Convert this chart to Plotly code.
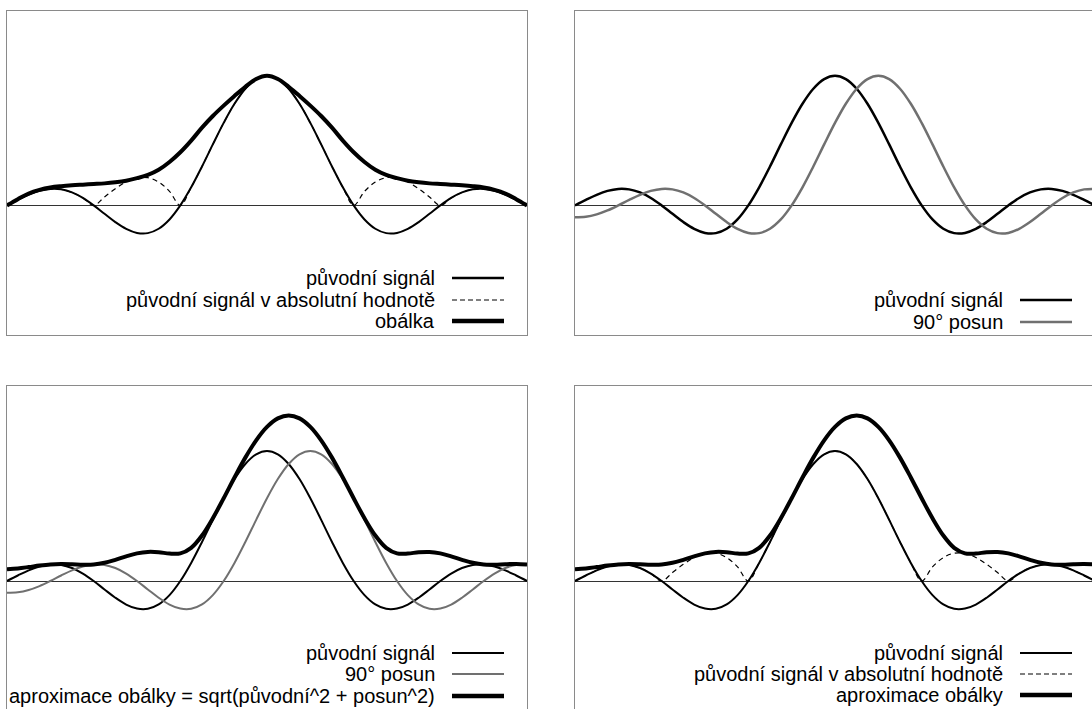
import plotly.graph_objects as go

# x positions in units of pi (step pi/8, from -3pi to 3pi)
X = [k / 8 for k in range(-24, 25)]

# original signal
ORIG_HALF = [1.0, 0.9745, 0.9003, 0.7842, 0.6366, 0.4705, 0.3001, 0.1392, 0.0,
             -0.1083, -0.1801, -0.2139, -0.2122, -0.1810, -0.1286, -0.0650, 0.0,
             0.0573, 0.1000, 0.1238, 0.1273, 0.1120, 0.0819, 0.0424, 0.0]
ORIG = ORIG_HALF[::-1] + ORIG_HALF[1:]

# absolute value of the original signal
ABS = [abs(v) for v in ORIG]

# 90 degree shifted signal
SHIFT = [-0.0910, -0.0871, -0.0693, -0.0390, 0.0, 0.0424, 0.0819, 0.1120, 0.1273,
         0.1238, 0.1000, 0.0573, 0.0, -0.0650, -0.1286, -0.1810, -0.2122, -0.2139,
         -0.1801, -0.1083, 0.0, 0.1392, 0.3001, 0.4705, 0.6366, 0.7842, 0.9003,
         0.9745, 1.0, 0.9745, 0.9003, 0.7842, 0.6366, 0.4705, 0.3001, 0.1392, 0.0,
         -0.1083, -0.1801, -0.2139, -0.2122, -0.1810, -0.1286, -0.0650, 0.0,
         0.0573, 0.1000, 0.1238, 0.1273]

# envelope drawn in top-left panel ("obálka")
ENV_HALF = [1.0, 0.975, 0.915, 0.845, 0.77, 0.69, 0.60, 0.50, 0.41, 0.335, 0.275,
            0.235, 0.21, 0.19, 0.178, 0.17, 0.165, 0.16, 0.155, 0.148, 0.138,
            0.12, 0.092, 0.048, 0.0]
ENV = ENV_HALF[::-1] + ENV_HALF[1:]

# envelope approximation sqrt(orig^2 + shift^2)
APPROX = [0.0910, 0.0969, 0.1072, 0.1186, 0.1273, 0.1309, 0.1293, 0.1259, 0.1273,
          0.1398, 0.1629, 0.1898, 0.2122, 0.2235, 0.2213, 0.2109, 0.2122, 0.2552,
          0.3500, 0.4828, 0.6366, 0.7965, 0.9490, 1.0822, 1.1855, 1.2509, 1.2733,
          1.2509, 1.1855, 1.0822, 0.9490, 0.7965, 0.6366, 0.4828, 0.3500, 0.2552,
          0.2122, 0.2109, 0.2213, 0.2235, 0.2122, 0.1898, 0.1629, 0.1398, 0.1273,
          0.1259, 0.1293, 0.1309, 0.1273]

BLACK = "#000000"
GRAY = "#707070"
FRAME = "#8a8a8a"
W, H = 1092, 709

fig = go.Figure()


def add(y, ax, color, width, dash="solid"):
    fig.add_trace(go.Scatter(
        x=X, y=y, mode="lines", xaxis="x" + ax, yaxis="y" + ax,
        line=dict(color=color, width=width, dash=dash, shape="spline", smoothing=1.0),
        hoverinfo="skip", showlegend=False))


# top-left
add(ABS, "", BLACK, 1.2, "5px,4px")
add(ORIG, "", BLACK, 2)
add(ENV, "", BLACK, 4)
# top-right
add(ORIG, "2", BLACK, 2.5)
add(SHIFT, "2", GRAY, 2.5)
# bottom-left
add(ORIG, "3", BLACK, 2)
add(SHIFT, "3", GRAY, 2)
add(APPROX, "3", BLACK, 4)
# bottom-right
add(ABS, "4", BLACK, 1.2, "5px,4px")
add(ORIG, "4", BLACK, 2)
add(APPROX, "4", BLACK, 4)

LX = [7 / W, 527 / W]
RX = [575 / W, 1.0]
TY = [1 - 335 / H, 1 - 11 / H]
BY = [0.0, 1 - 386 / H]
right_max = -3 + 517 / 520 * 6
bottom_min = 1.5 - 323 / 130


def xax(dom, rng, anchor, mirror, side="bottom"):
    return dict(domain=dom, range=rng, anchor=anchor, showgrid=False, zeroline=False,
                showticklabels=False, ticks="", showline=True, linecolor=FRAME,
                linewidth=1, mirror=mirror, side=side, fixedrange=True)


def yax(dom, rng, anchor, mirror):
    return dict(domain=dom, range=rng, anchor=anchor, showgrid=False, zeroline=True,
                zerolinecolor="#333333", zerolinewidth=1, showticklabels=False,
                ticks="", showline=True, linecolor=FRAME, linewidth=1, mirror=mirror,
                fixedrange=True)


fig.update_layout(
    width=W, height=H, margin=dict(l=0, r=0, t=0, b=0),
    paper_bgcolor="white", plot_bgcolor="white",
    xaxis=xax(LX, [-3, 3], "y", True),
    yaxis=yax(TY, [-1, 1.5], "x", True),
    xaxis2=xax(RX, [-3, right_max], "y2", True),
    yaxis2=yax(TY, [-1, 1.5], "x2", False),
    xaxis3=xax(LX, [-3, 3], "y3", False, "top"),
    yaxis3=yax(BY, [bottom_min, 1.5], "x3", True),
    xaxis4=xax(RX, [-3, right_max], "y4", False, "top"),
    yaxis4=yax(BY, [bottom_min, 1.5], "x4", False),
    font=dict(family="Liberation Sans, Arial, sans-serif", size=20, color="black"),
)

# legends (text right-aligned, sample line to the right)
LEG = [
    # (text, text_right_px, y_px, line_x0, line_x1, color, width, dash)
    ("původní signál", 437, 278, 452, 504, BLACK, 2.5, "solid"),
    ("původní signál v absolutní hodnotě", 437, 300, 452, 504, BLACK, 1.2, "5px,3px"),
    ("obálka", 437, 321, 452, 504, BLACK, 4.5, "solid"),
    ("původní signál", 1005, 300, 1020, 1072, BLACK, 2.5, "solid"),
    ("90° posun", 1005, 322, 1020, 1072, GRAY, 2.5, "solid"),
    ("původní signál", 437, 653, 452, 504, BLACK, 2, "solid"),
    ("90° posun", 437, 674, 452, 504, GRAY, 2, "solid"),
    ("aproximace obálky = sqrt(původní^2 + posun^2)", 437, 696, 452, 504, BLACK, 4.5, "solid"),
    ("původní signál", 1005, 653, 1020, 1072, BLACK, 2, "solid"),
    ("původní signál v absolutní hodnotě", 1005, 674, 1020, 1072, BLACK, 1.2, "5px,3px"),
    ("aproximace obálky", 1005, 695, 1020, 1072, BLACK, 4.5, "solid"),
]
for text, tx, ty, lx0, lx1, col, lw, dash in LEG:
    fig.add_annotation(text=text, x=tx / W, y=1 - ty / H, xref="paper", yref="paper",
                       xanchor="right", yanchor="middle", showarrow=False,
                       font=dict(size=20, color="black"))
    fig.add_shape(type="line", xref="paper", yref="paper", x0=lx0 / W, x1=lx1 / W,
                  y0=1 - ty / H, y1=1 - ty / H, line=dict(color=col, width=lw, dash=dash))

fig.write_html("out.html", config={"displayModeBar": False, "staticPlot": True},
               post_script="document.body.style.margin='0';document.body.style.overflow='hidden';")
